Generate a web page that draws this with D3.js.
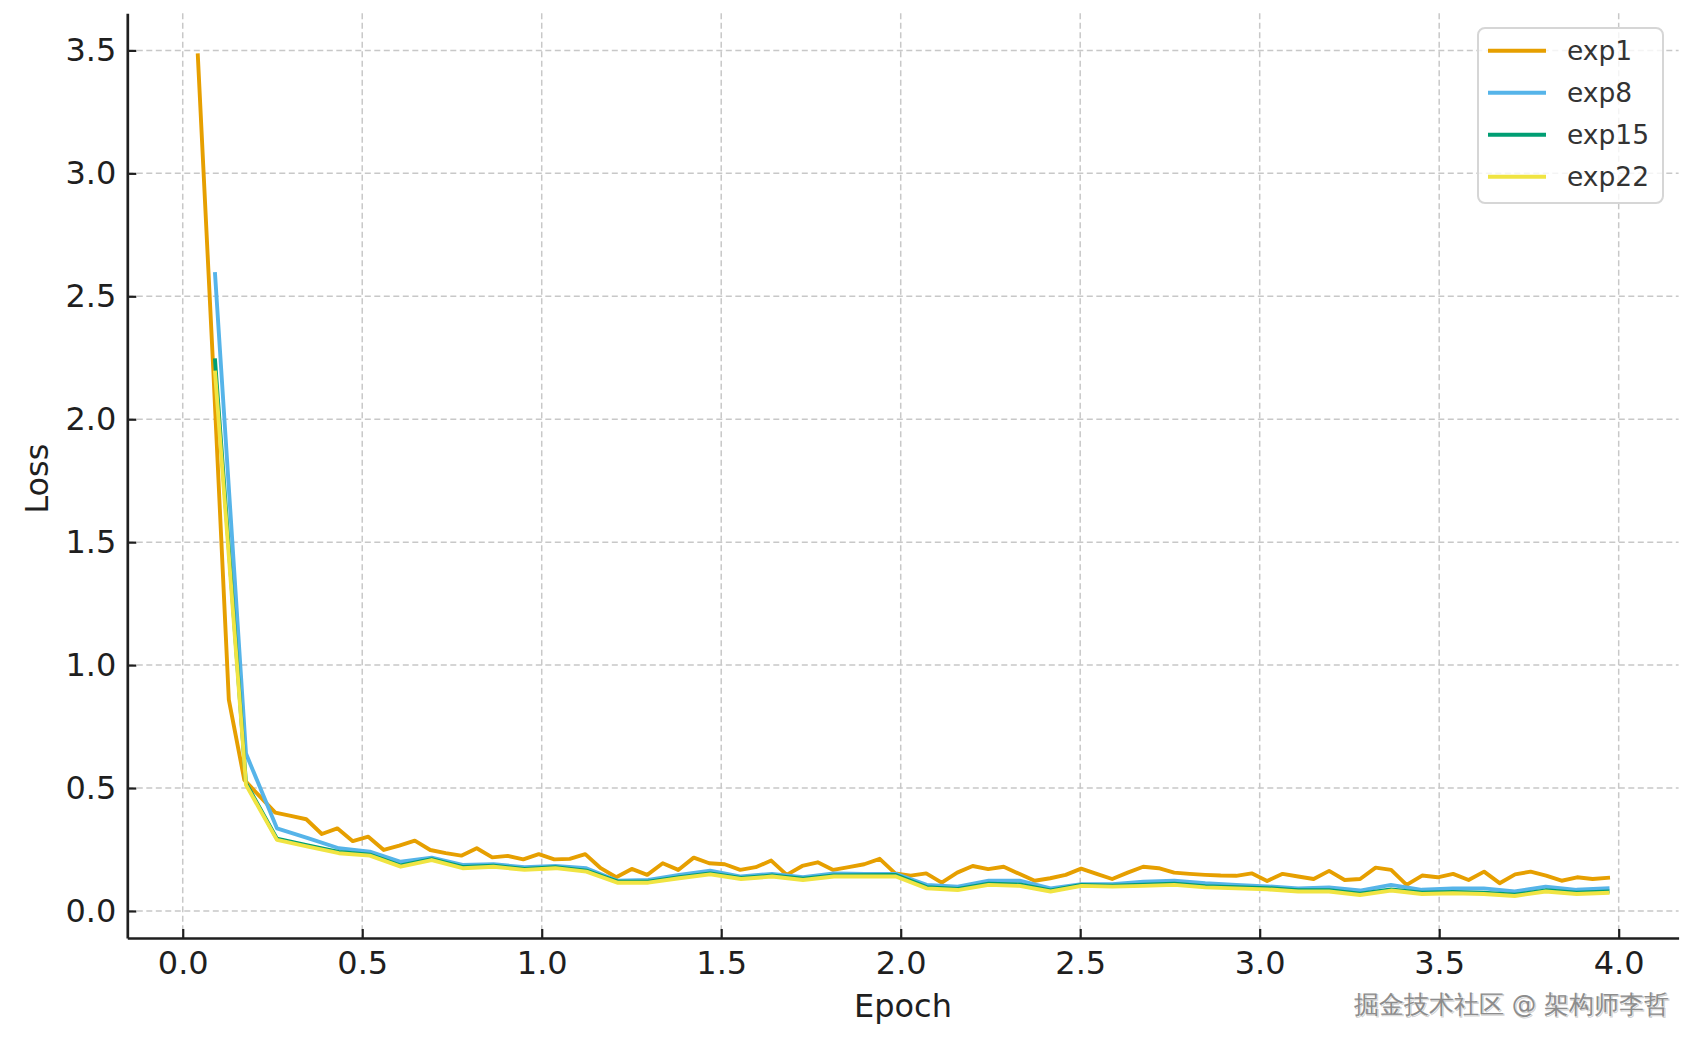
<!DOCTYPE html>
<html>
<head>
<meta charset="utf-8">
<script src="https://cdn.jsdelivr.net/npm/d3@7"></script>
<style>
body{margin:0;background:#fff;}
svg text{font-family:"DejaVu Sans",sans-serif;}
</style>
</head>
<body>
<svg class="chart" width="1697" height="1045"></svg>
<script>
// loss values, one per logging step
var exp1Loss = [3.48,2.20,0.86,0.533,0.466,0.40,0.387,0.373,0.313,0.336,
    0.284,0.302,0.248,0.266,0.286,0.248,0.235,0.225,0.255,0.218,
    0.224,0.21,0.231,0.21,0.212,0.231,0.174,0.137,0.171,0.147,
    0.194,0.167,0.217,0.194,0.19,0.167,0.178,0.205,0.147,0.183,
    0.198,0.167,0.178,0.19,0.212,0.153,0.144,0.153,0.115,0.156,
    0.183,0.17,0.18,0.151,0.123,0.133,0.147,0.172,0.151,0.13,
    0.156,0.18,0.174,0.156,0.151,0.147,0.144,0.143,0.153,0.122,
    0.151,0.14,0.13,0.163,0.126,0.13,0.176,0.167,0.106,0.144,
    0.137,0.151,0.126,0.16,0.113,0.149,0.16,0.144,0.123,0.137,
    0.13,0.135];
var exp8Loss = [2.59,0.64,0.336,0.296,0.255,0.241,0.20,0.217,0.187,0.19,
    0.178,0.183,0.174,0.123,0.126,0.147,0.164,0.14,0.151,0.137,
    0.153,0.151,0.151,0.106,0.099,0.123,0.123,0.092,0.109,0.109,
    0.119,0.123,0.113,0.106,0.10,0.092,0.096,0.083,0.106,0.086,
    0.092,0.092,0.079,0.099,0.086,0.092];
var exp15Loss = [2.24,0.52,0.294,0.267,0.24,0.229,0.185,0.211,0.179,0.184,
    0.171,0.178,0.164,0.12,0.119,0.137,0.153,0.134,0.144,0.131,
    0.144,0.145,0.146,0.097,0.09,0.111,0.108,0.084,0.106,0.103,
    0.107,0.111,0.101,0.097,0.093,0.084,0.084,0.07,0.088,0.074,
    0.077,0.074,0.066,0.084,0.074,0.079];
var exp22Loss = [2.19,0.513,0.289,0.262,0.235,0.225,0.18,0.207,0.174,0.18,
    0.167,0.174,0.16,0.115,0.115,0.133,0.149,0.13,0.14,0.126,
    0.14,0.14,0.14,0.092,0.085,0.106,0.102,0.079,0.102,0.099,
    0.102,0.106,0.096,0.092,0.088,0.079,0.079,0.065,0.083,0.069,
    0.072,0.069,0.061,0.079,0.069,0.074];

// logging grid in epochs: exp1 logs twice as often as the others
var exp1FirstEpoch = 0.042, exp1EpochStep = 0.04317;
var otherFirstEpoch = 0.090, otherEpochStep = 0.0862;

var seriesNames = ["exp1","exp8","exp15","exp22"];
var seriesColors = ["#E69F00","#56B4E9","#009E73","#F0E442"];
var xTickValues = [0,0.5,1,1.5,2,2.5,3,3.5,4];
var yTickValues = [0,0.5,1,1.5,2,2.5,3,3.5];

function toPoints(loss, first, step){
    return loss.map(function(v,i){ return {x: first + i*step, y: v}; });
}
var series = [
    toPoints(exp1Loss, exp1FirstEpoch, exp1EpochStep),
    toPoints(exp8Loss, otherFirstEpoch, otherEpochStep),
    toPoints(exp15Loss, otherFirstEpoch, otherEpochStep),
    toPoints(exp22Loss, otherFirstEpoch, otherEpochStep)
];

var svg = d3.select("svg.chart");
var plotLeft = 127.3, plotRight = 1678.6, plotTop = 13.3, plotBottom = 938;
var ink = "#1f1f1f";

// matplotlib style 5% margins around the data
var all = d3.merge(series);
var xe = d3.extent(all, function(d){return d.x;}),
    ye = d3.extent(all, function(d){return d.y;});
var xm = (xe[1]-xe[0])*0.05, ym = (ye[1]-ye[0])*0.05;
var x = d3.scaleLinear().domain([xe[0]-xm, xe[1]+xm]).range([plotLeft, plotRight]);
var y = d3.scaleLinear().domain([ye[0]-ym, ye[1]+ym]).range([plotBottom, plotTop]);

svg.append("rect").attr("width",1697).attr("height",1045).attr("fill","#fff");

var grid = svg.append("g").attr("class","grid")
    .attr("stroke","#c8c8c8").attr("stroke-width",1.5).attr("stroke-dasharray","6,3.5");
grid.selectAll("line.gx").data(xTickValues).enter().append("line")
    .attr("x1",function(d){return x(d);}).attr("x2",function(d){return x(d);})
    .attr("y1",plotTop).attr("y2",plotBottom);
grid.selectAll("line.gy").data(yTickValues).enter().append("line")
    .attr("y1",function(d){return y(d);}).attr("y2",function(d){return y(d);})
    .attr("x1",plotLeft).attr("x2",plotRight);

var line = d3.line().x(function(d){return x(d.x);}).y(function(d){return y(d.y);});
svg.append("g").attr("class","lines")
    .selectAll("path")
    .data(series)
    .enter().append("path")
    .attr("d", line)
    .attr("fill","none")
    .attr("stroke", function(d,i){return seriesColors[i];})
    .attr("stroke-width",3.9)
    .attr("stroke-linejoin","round")
    .attr("stroke-linecap","square");

var xAxis = svg.append("g")
    .attr("transform","translate(0,"+plotBottom+")")
    .call(d3.axisBottom(x).tickValues(xTickValues).tickFormat(d3.format(".1f"))
        .tickSizeInner(-9).tickSizeOuter(0).tickPadding(13));
var yAxis = svg.append("g")
    .attr("transform","translate("+plotLeft+",0)")
    .call(d3.axisLeft(y).tickValues(yTickValues).tickFormat(d3.format(".1f"))
        .tickSizeInner(-9).tickSizeOuter(0).tickPadding(11));
[xAxis, yAxis].forEach(function(a){
    a.select(".domain").attr("stroke",ink).attr("stroke-width",2.7);
    a.selectAll(".tick line").attr("stroke",ink).attr("stroke-width",2.2);
    a.selectAll(".tick text").attr("fill",ink).attr("font-size",32)
        .attr("font-family","DejaVu Sans");
});

svg.append("text")
    .attr("x",(plotLeft+plotRight)/2).attr("y",1017)
    .attr("text-anchor","middle").attr("font-size",32).attr("fill",ink)
    .text("Epoch");
svg.append("text")
    .attr("transform","translate(48,"+((plotTop+plotBottom)/2+3)+") rotate(-90)")
    .attr("text-anchor","middle").attr("font-size",32).attr("fill",ink)
    .text("Loss");

// legend
var legend = svg.append("g").attr("class","legend");
legend.append("rect")
    .attr("x",1478).attr("y",28).attr("width",185).attr("height",175)
    .attr("rx",7).attr("fill","#fff").attr("fill-opacity",0.8)
    .attr("stroke","#d6d6d6").attr("stroke-width",2);
var rows = legend.selectAll("g.row").data(seriesNames).enter().append("g")
    .attr("transform",function(d,i){return "translate(0,"+(50.7+i*42)+")";});
rows.append("line")
    .attr("x1",1488).attr("x2",1546).attr("y1",0).attr("y2",0)
    .attr("stroke",function(d,i){return seriesColors[i];}).attr("stroke-width",4);
rows.append("text")
    .attr("x",1567).attr("y",0).attr("dy","0.36em")
    .attr("font-size",26.5).attr("fill","#333")
    .text(function(d){return d;});

// watermark with a soft edge
var mark = "掘金技术社区 @ 架构师李哲";
svg.append("text")
    .attr("x",1670).attr("y",1014)
    .attr("text-anchor","end").attr("font-size",24.5)
    .attr("font-family","'Noto Sans CJK SC'")
    .attr("fill","none").attr("stroke","#666").attr("stroke-width",1).attr("stroke-opacity",0.3)
    .text(mark);
svg.append("text")
    .attr("x",1669).attr("y",1013)
    .attr("text-anchor","end").attr("font-size",24.5)
    .attr("font-family","'Noto Sans CJK SC'")
    .attr("fill","#8c8c8c")
    .text(mark);
</script>
</body>
</html>
